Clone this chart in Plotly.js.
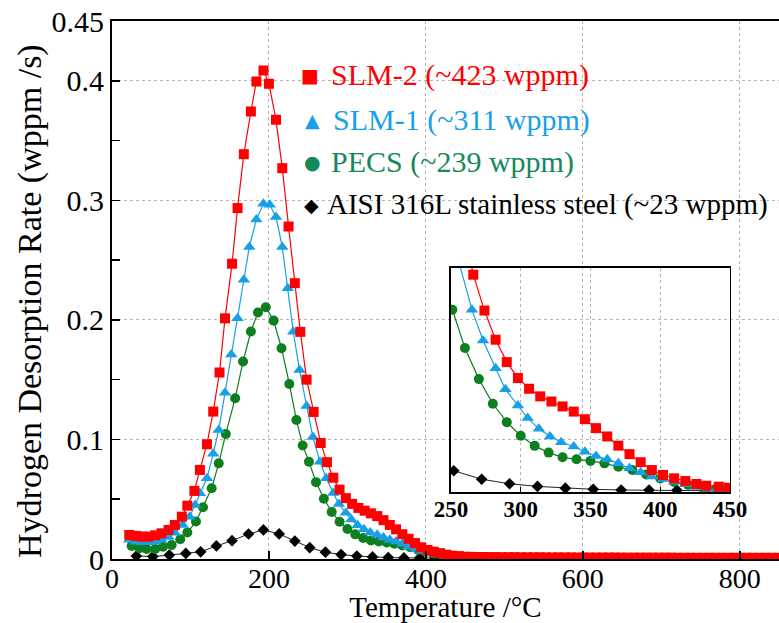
<!DOCTYPE html>
<html>
<head>
<meta charset="utf-8">
<script src="https://cdn.plot.ly/plotly-3.0.1.min.js"></script>
<style>html,body{margin:0;padding:0;background:#fff;}#chart{width:779px;height:623px;}</style>
</head>
<body>
<div id="chart"></div>
<script>
// ---- Data ----
// SLM-2 (~423 wppm)
const slm2T = [22,31,39,46,55,63,72,80,89,96,105,112,121,129,137,144,153,160,168,177,184,193,200,209,217,225,233,240,248,257,266,274,282,290,298,306,314,322,330,338,346,354,362,370,378,386,394,402,410,418,426,433,442,449,
  457,465,473,481,489,497,505,513,521,529,537,545,553,561,569,577,585,593,601,609,617,625,633,641,649,657,665,673,681,689,697,705,713,721,729,737,745,753,761,769,777,785,793,801,809,817,825,833,841,849];
const slm2R = [0.0201,0.0193,0.0187,0.0187,0.0198,0.0215,0.0243,0.0285,0.0354,0.0446,0.057,0.0745,0.096,0.1233,0.156,0.2013,0.247,0.2935,0.3386,0.3743,0.3994,0.4086,0.3975,0.3674,0.3269,0.2781,0.2307,0.19,0.15,0.123,0.097,0.081,0.068,0.058,0.0509,0.0461,0.0427,0.0404,0.0382,0.0359,0.0325,0.0285,0.0248,0.0207,0.0169,0.0133,0.0098,0.0076,0.0061,0.0049,0.0036,0.0028,0.0024,0.0019,
  0.0018,0.0017,0.0017,0.0016,0.0016,0.0015,0.0015,0.0015,0.0014,0.0014,0.0014,0.0014,0.0013,0.0013,0.0013,0.0013,0.0013,0.0012,0.0012,0.0012,0.0012,0.0012,0.0012,0.0012,0.0011,0.0011,0.0011,0.0011,0.0011,0.0011,0.0011,0.0011,0.0011,0.0010,0.0010,0.0010,0.0010,0.0010,0.0010,0.0010,0.0010,0.0010,0.0010,0.0010,0.0010,0.0010,0.0010,0.0010,0.0010,0.0010];

// SLM-1 (~311 wppm)
const slm1T = [22,31,39,47,55,63,72,80,90,99,106,112,121,129,136,144,152,160,168,175,184,193,201,209,217,224,231,239,248,256,265,273,282,289,298,305,313,321,329,338,346,354,362,370,378,386,394,402,410,418,426,434,442,450,
  458,474,490,506,522,538,554,570,586,602,618,634,650,666,682,698,714,730,746,762,778,794,810,826,842];
const slm1R = [0.016,0.0145,0.014,0.014,0.0145,0.016,0.0185,0.022,0.0285,0.0354,0.0452,0.055,0.0675,0.088,0.108,0.139,0.171,0.2013,0.2335,0.261,0.284,0.2971,0.2963,0.286,0.261,0.2265,0.19,0.158,0.128,0.102,0.0814,0.0676,0.0553,0.0459,0.0386,0.033,0.0282,0.0248,0.0222,0.0203,0.018,0.0161,0.0146,0.0128,0.0106,0.0088,0.0069,0.0058,0.0046,0.0035,0.0022,0.0013,0.0010,0.0009,
  0.0009,0.0009,0.0008,0.0008,0.0008,0.0008,0.0008,0.0008,0.0007,0.0007,0.0007,0.0007,0.0007,0.0007,0.0007,0.0007,0.0006,0.0006,0.0006,0.0006,0.0006,0.0006,0.0006,0.0006,0.0006];

// PECS (~239 wppm)
const pecsT = [25,35,44,55,65,76,87,96,107,116,127,136,145,157,167,177,186,196,206,216,226,235,243,251,260,270,280,290,300,310,320,330,340,350,360,370,380,390,400,410,420,430,440,450,
  470,490,510,530,550,570,590,610,630,650,670,690,710,730,750,770,790,810,830,850];
const pecsR = [0.0109,0.009,0.0084,0.0084,0.0103,0.0117,0.0165,0.0221,0.0313,0.0433,0.0592,0.08,0.1046,0.1345,0.1652,0.1903,0.2062,0.2106,0.1994,0.1763,0.1464,0.1163,0.095,0.0814,0.0643,0.0504,0.0394,0.0312,0.0251,0.0206,0.0176,0.0155,0.0146,0.0139,0.0128,0.0113,0.0098,0.0078,0.006,0.0045,0.0032,0.0022,0.0015,0.0011,
  0.0009,0.0008,0.0008,0.0007,0.0007,0.0007,0.0006,0.0006,0.0006,0.0006,0.0005,0.0005,0.0005,0.0005,0.0005,0.0005,0.0005,0.0005,0.0005,0.0005];

// AISI 316L stainless steel (~23 wppm)
const aisiT = [31,52,73,94,113,133,153,174,193,213,233,252,272,292,312,332,352,372,392,412,432,452,472,492,512,532,552,572,592,612,632,652,672,692,712,732,752,772,792,812,832,852];
const aisiR = [0.0025,0.002,0.0033,0.0047,0.006,0.0109,0.0153,0.0209,0.0243,0.021,0.015,0.0095,0.0057,0.0037,0.0025,0.0017,0.0012,0.0009,0.0009,0.0008,0.0006,0.0005,0.0005,0.0005,0.0004,0.0004,0.0004,0.0004,0.0004,0.0004,0.0004,0.0004,0.0004,0.0004,0.0004,0.0004,0.0004,0.0004,0.0004,0.0004,0.0004,0.0004];

const seriesNames = ['SLM-2 (~423 wppm)','SLM-1 (~311 wppm)','PECS (~239 wppm)','AISI 316L stainless steel (~23 wppm)'];
const xTicks = [0,200,400,600,800];
const yTicks = [0,0.1,0.2,0.3,0.4,0.45];
const yTickText = ['0','0.1','0.2','0.3','0.4','0.45'];
const insetTicks = [250,300,350,400,450];
const xTitle = 'Temperature /\u00B0C';
const yTitle = 'Hydrogen Desorption Rate (wppm /s)';

// ---- Styles ----
const RED = '#FF0000', BLUE = '#18A0E6', GREEN = '#0E7F1E', GREENTXT = '#15895A', BLACK = '#000000';
const serif = 'Liberation Serif';

function mk(x, y, name, color, symbol, size, lineColor, lw, xa, ya) {
  return {
    x: x, y: y, name: name, type: 'scatter', mode: 'lines+markers',
    xaxis: xa, yaxis: ya, showlegend: false,
    line: {color: lineColor, width: lw},
    marker: {color: color, symbol: symbol, size: size, line: {width: 0}}
  };
}

const traces = [];
[['x','y'],['x2','y2']].forEach(function(ax){
  traces.push(mk(aisiT, aisiR, seriesNames[3], BLACK, 'diamond', 9, '#222', 1, ax[0], ax[1]));
  traces.push(mk(pecsT, pecsR, seriesNames[2], GREEN, 'circle', 10, GREEN, 1.2, ax[0], ax[1]));
  traces.push(mk(slm1T, slm1R, seriesNames[1], BLUE, 'triangle-up', 11, BLUE, 1.2, ax[0], ax[1]));
  traces.push(mk(slm2T, slm2R, seriesNames[0], RED, 'square', 10, RED, 1.2, ax[0], ax[1]));
});

// legend built from annotations (coloured text per entry)
const legendColors = [RED, BLUE, GREENTXT, BLACK];
const legendGlyphs = ['\u25A0','\u25B2','\u25CF','\u25C6'];
const legendGlyphColors = [RED, BLUE, GREENTXT, BLACK];
const legendY = [0.8996, 0.8160, 0.7380, 0.6580];
const legendTextX = [0.3253, 0.3283, 0.3253, 0.3193];
const legendGlyphX = [0.2969, 0.2999, 0.2999, 0.2984];
const legendSizes = [30, 30, 30, 29];
const annotations = [];
seriesNames.forEach(function(n, i){
  annotations.push({xref:'paper', yref:'paper', x: legendGlyphX[i], y: legendY[i], xanchor:'center', yanchor:'middle',
    text: legendGlyphs[i], showarrow:false, font:{family:'DejaVu Sans', size:19, color: legendGlyphColors[i]}});
  annotations.push({xref:'paper', yref:'paper', x: legendTextX[i], y: legendY[i], xanchor:'left', yanchor:'middle',
    text: n, showarrow:false, font:{family: serif, size: legendSizes[i], color: legendColors[i]}});
});
// y axis title (placed as rotated text to match the reference position)
annotations.push({xref:'paper', yref:'paper', x:-0.1229, y:0.4796, xanchor:'center', yanchor:'middle', textangle:-90,
  text: yTitle, showarrow:false, font:{family: serif, size:34, color:'#000'}});

const grid = {showgrid:true, gridcolor:'#b4b4b4', gridwidth:1, griddash:'dot'};

const layout = {
  width: 779, height: 623,
  margin: {l:112, r:0, t:21, b:64},
  paper_bgcolor: '#ffffff', plot_bgcolor: 'rgba(0,0,0,0)',
  showlegend: false,
  font: {family: serif, color: '#000'},
  xaxis: Object.assign({
    domain:[0,1], range:[0,850], anchor:'y',
    tickmode:'array', tickvals: xTicks,
    ticks:'inside', ticklen:8, tickwidth:1.5, tickcolor:'#000',
    showline:true, linecolor:'#000', linewidth:2, mirror:true, zeroline:false,
    tickfont:{family: serif, size:28, color:'#000'}, ticklabelstandoff:-7,
    title:{text: xTitle, font:{family: serif, size:29, color:'#000'}, standoff:7}
  }, grid),
  yaxis: Object.assign({
    domain:[0,1], range:[0,0.45], anchor:'x',
    tickmode:'array', tickvals: yTicks, ticktext: yTickText,
    ticks:'inside', ticklen:8, tickwidth:1.5, tickcolor:'#000',
    minor:{tickmode:'linear', tick0:0, dtick:0.05, ticks:'inside', ticklen:8, tickwidth:1.5, tickcolor:'#000', showgrid:false},
    showline:true, linecolor:'#000', linewidth:2, mirror:false, zeroline:false,
    tickfont:{family: serif, size:30, color:'#000'}
  }, grid),
  xaxis2: Object.assign({
    domain:[0.5082,0.9265], range:[250,450], anchor:'y2',
    tickmode:'array', tickvals: insetTicks,
    ticks:'inside', ticklen:5, tickwidth:1.2, tickcolor:'#000',
    showline:true, linecolor:'#000', linewidth:1.5, mirror:true, zeroline:false,
    tickfont:{family: serif, size:23, color:'#000', weight:'bold'}, ticklabelstandoff:-4
  }, grid),
  yaxis2: {
    domain:[0.1245,0.5409], range:[0,0.1], anchor:'x2',
    showticklabels:false, ticks:'', showgrid:false, zeroline:false,
    showline:true, linecolor:'#000', linewidth:1.5, mirror:true
  },
  annotations: annotations
};

Plotly.newPlot('chart', traces, layout, {staticPlot:true, displayModeBar:false});
</script>
</body>
</html>
